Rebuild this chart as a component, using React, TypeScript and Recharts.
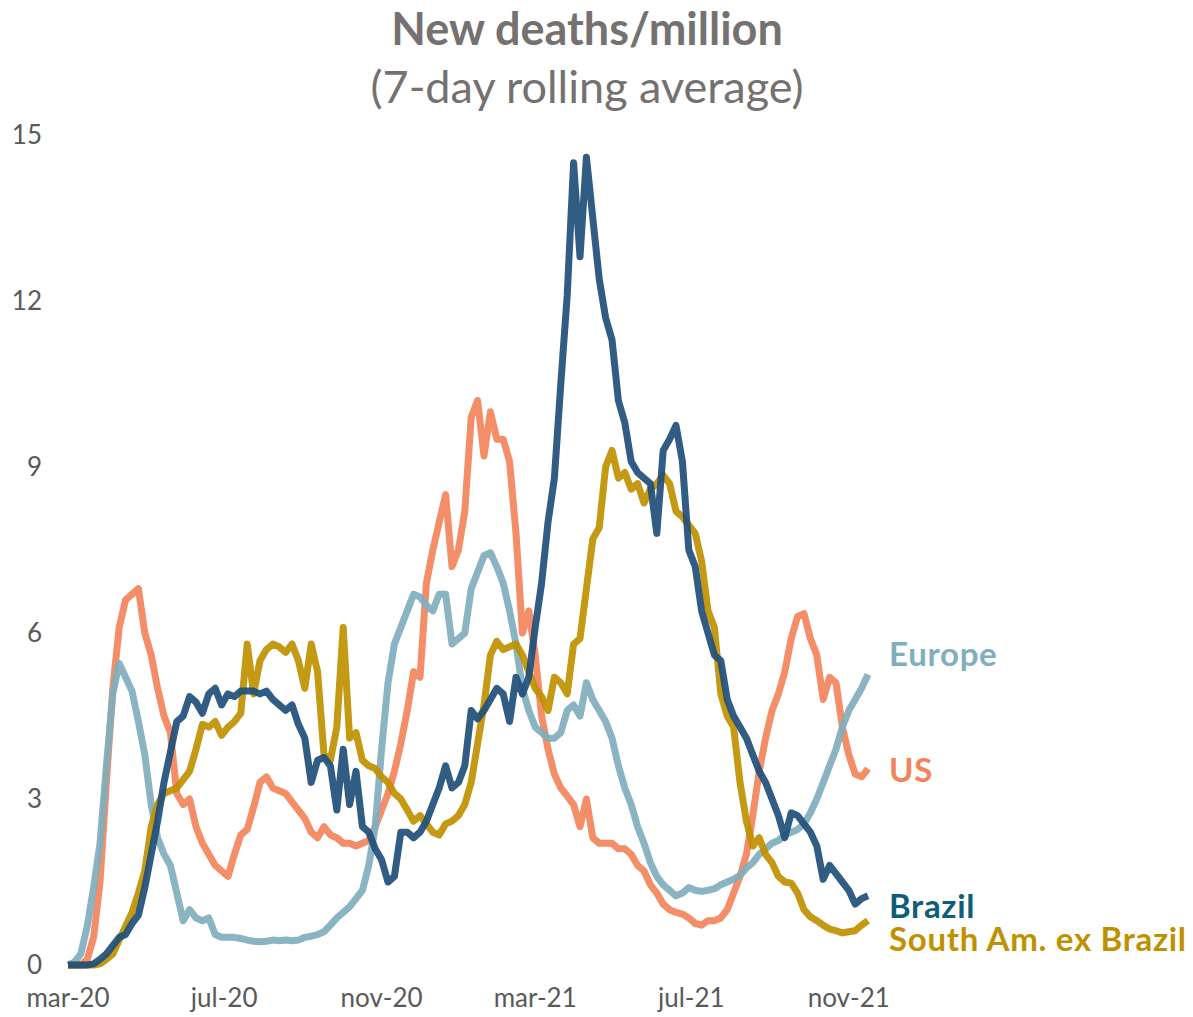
import React from 'react';
import { LineChart, Line, XAxis, YAxis } from 'recharts';

// 7-day rolling average of new deaths per million, sampled every 5 days from 1 Mar 2020
const EUROPE = [
  0, 0.05, 0.2, 0.7, 1.4, 2.2, 3.6, 4.9, 5.45, 5.2, 4.95, 4.4, 3.8, 2.9, 2.3, 2.0, 1.8, 1.3, 0.8, 1.0,
  0.85, 0.8, 0.85, 0.55, 0.5, 0.5, 0.5, 0.48, 0.45, 0.43, 0.42, 0.43, 0.45, 0.44, 0.45, 0.44, 0.45, 0.5, 0.52, 0.55,
  0.6, 0.72, 0.85, 0.95, 1.05, 1.2, 1.35, 1.8, 2.5, 3.9, 5.1, 5.8, 6.1, 6.4, 6.7, 6.65, 6.5, 6.4, 6.7, 6.7,
  5.8, 5.9, 6.0, 6.8, 7.1, 7.4, 7.45, 7.2, 6.9, 6.4, 5.8, 5.0, 4.6, 4.3, 4.2, 4.1, 4.1, 4.2, 4.6, 4.7,
  4.5, 5.1, 4.8, 4.6, 4.4, 4.1, 3.6, 3.2, 2.9, 2.5, 2.2, 1.85, 1.6, 1.45, 1.35, 1.25, 1.3, 1.4, 1.35, 1.33,
  1.35, 1.38, 1.45, 1.5, 1.55, 1.62, 1.75, 1.85, 2.0, 2.1, 2.2, 2.25, 2.35, 2.4, 2.45, 2.55, 2.75, 3.0, 3.3, 3.6,
  3.9, 4.3, 4.6, 4.8, 5.0, 5.25,
];

const US = [
  0, 0, 0, 0.1, 0.5, 1.5, 3.3, 5.0, 6.1, 6.6, 6.7, 6.8, 6.0, 5.6, 5.0, 4.5, 4.2, 3.1, 2.9, 3.0,
  2.5, 2.2, 2.0, 1.8, 1.7, 1.6, 2.0, 2.35, 2.45, 2.85, 3.3, 3.4, 3.2, 3.15, 3.1, 2.95, 2.8, 2.65, 2.4, 2.3,
  2.5, 2.35, 2.3, 2.2, 2.2, 2.15, 2.2, 2.25, 2.5, 2.8, 3.1, 3.5, 4.0, 4.6, 5.3, 5.2, 6.9, 7.5, 8.0, 8.5,
  7.2, 7.5, 8.2, 9.9, 10.2, 9.2, 10.0, 9.5, 9.5, 9.1, 7.8, 6.0, 6.4, 5.6, 4.5, 3.9, 3.45, 3.2, 3.05, 2.9,
  2.5, 3.0, 2.3, 2.2, 2.2, 2.2, 2.1, 2.1, 2.0, 1.8, 1.7, 1.45, 1.3, 1.1, 1.0, 0.95, 0.92, 0.85, 0.75, 0.72,
  0.8, 0.8, 0.85, 1.0, 1.3, 1.6, 2.0, 2.7, 3.5, 4.1, 4.6, 4.9, 5.3, 5.9, 6.3, 6.35, 5.9, 5.6, 4.8, 5.2,
  5.1, 4.3, 3.8, 3.45, 3.4, 3.55,
];

const BRAZIL = [
  0, 0, 0, 0, 0.02, 0.1, 0.2, 0.35, 0.5, 0.55, 0.75, 0.9, 1.4, 2.0, 2.6, 3.3, 3.85, 4.4, 4.5, 4.85,
  4.75, 4.55, 4.9, 5.0, 4.7, 4.9, 4.85, 4.95, 4.95, 4.95, 4.9, 4.95, 4.8, 4.7, 4.6, 4.7, 4.35, 4.1, 3.3, 3.7,
  3.75, 3.6, 2.8, 3.9, 2.9, 3.5, 2.5, 2.4, 2.1, 1.9, 1.5, 1.6, 2.4, 2.4, 2.3, 2.4, 2.6, 2.9, 3.2, 3.6,
  3.2, 3.3, 3.6, 4.6, 4.45, 4.6, 4.8, 5.0, 4.9, 4.4, 5.2, 4.9, 5.2, 6.1, 6.9, 8.0, 8.8, 10.5, 12.1, 14.5,
  12.8, 14.6, 13.5, 12.4, 11.7, 11.3, 10.2, 9.8, 9.1, 8.9, 8.8, 8.7, 7.8, 9.3, 9.5, 9.75, 9.1, 7.5, 7.2, 6.4,
  6.0, 5.6, 5.5, 4.8, 4.5, 4.3, 4.1, 3.8, 3.5, 3.3, 3.0, 2.7, 2.3, 2.75, 2.7, 2.55, 2.4, 2.15, 1.55, 1.8,
  1.65, 1.5, 1.35, 1.1, 1.2, 1.25,
];

const SOUTH_AM = [
  0, 0, 0, 0, 0, 0.02, 0.1, 0.2, 0.45, 0.7, 0.95, 1.3, 1.7, 2.5, 2.9, 3.1, 3.15, 3.2, 3.35, 3.5,
  3.9, 4.35, 4.3, 4.4, 4.15, 4.3, 4.4, 4.55, 5.8, 4.9, 5.5, 5.7, 5.8, 5.75, 5.65, 5.8, 5.5, 5.0, 5.8, 5.3,
  3.8, 3.7, 4.3, 6.1, 4.1, 4.2, 3.7, 3.6, 3.55, 3.4, 3.3, 3.1, 3.0, 2.8, 2.6, 2.7, 2.55, 2.4, 2.35, 2.55,
  2.6, 2.7, 2.9, 3.3, 4.0, 4.7, 5.6, 5.85, 5.7, 5.75, 5.8, 5.6, 5.3, 5.0, 4.85, 4.6, 5.2, 5.1, 4.9, 5.8,
  5.9, 6.8, 7.7, 7.9, 9.0, 9.3, 8.8, 8.9, 8.6, 8.7, 8.35, 8.6, 8.7, 8.85, 8.7, 8.2, 8.1, 7.95, 7.8, 7.3,
  6.4, 6.1, 4.9, 4.5, 4.3, 3.3, 2.6, 2.15, 2.3, 2.0, 1.85, 1.6, 1.5, 1.48, 1.3, 1.0, 0.87, 0.8, 0.72, 0.65,
  0.62, 0.58, 0.6, 0.62, 0.72, 0.8,
];

// day offsets (from 1 Mar 2020) of the month ticks and their labels
const TICK_DAYS = [0, 122, 245, 365, 487, 610];
const TICK_LABELS = ['mar-20', 'jul-20', 'nov-20', 'mar-21', 'jul-21', 'nov-21'];
const Y_TICKS = [0, 3, 6, 9, 12, 15];

const SERIES = [
  { key: 'us', name: 'US', color: '#f2845c', labelColor: '#f2845c', dy: 0 },
  { key: 'europe', name: 'Europe', color: '#80aebd', labelColor: '#80aebd', dy: -22 },
  { key: 'southAm', name: 'South Am. ex Brazil', color: '#bf9000', labelColor: '#bf9000', dy: 17 },
  { key: 'brazil', name: 'Brazil', color: '#1f4e79', labelColor: '#0f5d78', dy: 9 },
];

const data = EUROPE.map((_, i) => ({
  day: i * 5,
  europe: EUROPE[i],
  us: US[i],
  brazil: BRAZIL[i],
  southAm: SOUTH_AM[i],
}));

const FONT = 'Lato, "Open Sans", sans-serif';

const endLabel = (name: string, color: string, dy: number) => (props: any) => {
  const { x, y, index } = props;
  if (index !== data.length - 1) return null;
  return (
    <text
      x={x + 21}
      y={y + dy}
      dominantBaseline="central"
      fill={color}
      fontSize={33}
      letterSpacing={0.7}
      fontWeight={700}
      fontFamily={FONT}
    >
      {name}
    </text>
  );
};

export default function App() {
  return (
    <div style={{ position: 'absolute', left: 0, top: 0, width: 1193, height: 1017, background: '#fff', fontFamily: FONT }}>
      <div style={{ position: 'absolute', left: 0, width: 1174, top: 0, textAlign: 'center', color: '#767171', fontSize: 45, fontWeight: 700, lineHeight: '56px' }}>
        New deaths/million
      </div>
      <div style={{ position: 'absolute', left: 0, width: 1174, top: 58, textAlign: 'center', color: '#767171', fontSize: 45, lineHeight: '56px' }}>
        (7-day rolling average)
      </div>
      <LineChart
        width={1193}
        height={1017}
        data={data}
        margin={{ top: 135, right: 325, bottom: 0, left: 0 }}
      >
        <XAxis
          dataKey="day"
          type="number"
          domain={[0, 625]}
          ticks={TICK_DAYS}
          tickFormatter={(v: number) => TICK_LABELS[TICK_DAYS.indexOf(v)]}
          axisLine={false}
          tickLine={false}
          tickSize={0}
          tickMargin={24}
          tick={{ fill: '#595959', fontSize: 26, fontFamily: FONT }}
          height={52}
          interval={0}
        />
        <YAxis
          domain={[0, 15]}
          ticks={Y_TICKS}
          axisLine={false}
          tickLine={false}
          tickSize={0}
          tickMargin={26}
          width={68}
          tick={{ fill: '#595959', fontSize: 26, fontFamily: FONT }}
          interval={0}
        />
        {SERIES.map((s) => (
          <Line
            key={s.key}
            dataKey={s.key}
            type="linear"
            stroke={s.color}
            strokeWidth={7}
            strokeOpacity={0.92}
            strokeLinejoin="round"
            dot={false}
            isAnimationActive={false}
            label={endLabel(s.name, s.labelColor, s.dy)}
          />
        ))}
      </LineChart>
    </div>
  );
}
